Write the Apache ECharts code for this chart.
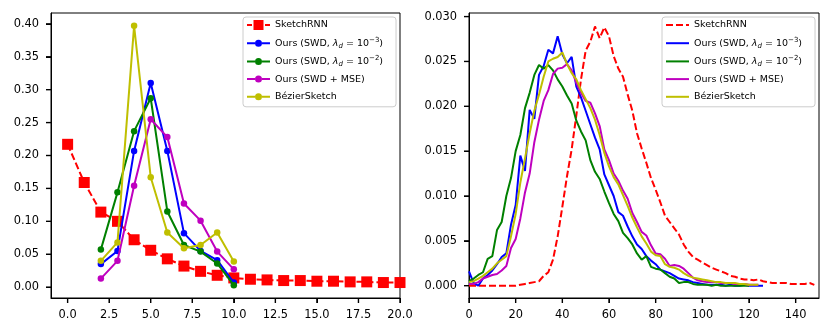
<!DOCTYPE html>
<html>
<head>
<meta charset="utf-8">
<script src="https://cdn.jsdelivr.net/npm/echarts@6/dist/echarts.min.js"></script>
<style>
  html, body { margin: 0; padding: 0; background: #fff; }
  #chart { width: 831px; height: 335px; }
</style>
</head>
<body>
<div id="chart"></div>
<script>
// left panel: number of strokes
var strokeX = [0, 1, 2, 3, 4, 5, 6, 7, 8, 9, 10, 11, 12, 13, 14, 15, 16, 17, 18, 19, 20];
var oursX = [2, 3, 4, 5, 6, 7, 8, 9, 10];
var sketchRnnStrokes = [0.217, 0.159, 0.114, 0.100, 0.072, 0.056, 0.043, 0.032, 0.024, 0.018, 0.014,
  0.012, 0.011, 0.010, 0.010, 0.009, 0.009, 0.008, 0.008, 0.007, 0.007];
var swd3Strokes = [0.035, 0.055, 0.207, 0.310, 0.207, 0.082, 0.055, 0.041, 0.007];
var swd2Strokes = [0.057, 0.144, 0.237, 0.287, 0.115, 0.064, 0.054, 0.036, 0.003];
var mseStrokes = [0.013, 0.040, 0.154, 0.255, 0.228, 0.127, 0.101, 0.054, 0.027];
var bezierStrokes = [0.040, 0.068, 0.397, 0.167, 0.083, 0.059, 0.064, 0.083, 0.039];

// right panel: sketch length
var lengthX = [0, 2, 4, 6, 8, 10, 12, 14, 16, 18, 20, 22, 24, 26, 28, 30, 32, 34, 36, 38, 40,
  42, 44, 46, 48, 50, 52, 54, 56, 58, 60, 62, 64, 66, 68, 70, 72, 74, 76, 78, 80,
  82, 84, 86, 88, 90, 92, 94, 96, 98, 100, 102, 104, 106, 108, 110, 112, 114, 116, 118, 120,
  122, 124, 126, 128, 130, 132, 134, 136, 138, 140, 142, 144, 146, 148];
var sketchRnnLen = [0, 0, 0, 0, 0, 0, 0, 0, 0, 0, 0.0000, 0.0001, 0.0002, 0.0003, 0.0004, 0.0005,
  0.0011, 0.0015, 0.0029, 0.0055, 0.0088, 0.0122, 0.0152, 0.0190, 0.0230, 0.0262, 0.0272,
  0.0289, 0.0276, 0.0288, 0.0278, 0.0256, 0.0242, 0.0233, 0.0213, 0.0195, 0.0170, 0.0153,
  0.0137, 0.0120, 0.0107, 0.0093, 0.0078, 0.0071, 0.0064, 0.0057, 0.0046, 0.0038, 0.0032,
  0.0029, 0.0026, 0.0023, 0.0020, 0.0018, 0.0016, 0.0014, 0.0011, 0.0010, 0.0008, 0.0007,
  0.0007, 0.0006, 0.0007, 0.0005, 0.0004, 0.0003, 0.0003, 0.0003, 0.0003, 0.0002, 0.0002,
  0.0002, 0.0002, 0.0003, 0.0001];
var swd3Len = [0.0016, 0.0003, 0.0000, 0.0008, 0.0012, 0.0017, 0.0024, 0.0032, 0.0036, 0.0068,
  0.0090, 0.0145, 0.0128, 0.0196, 0.0186, 0.0235, 0.0245, 0.0263, 0.0259, 0.0278, 0.0258,
  0.0248, 0.0255, 0.0222, 0.0210, 0.0195, 0.0180, 0.0165, 0.0152, 0.0124, 0.0112, 0.0100,
  0.0082, 0.0078, 0.0066, 0.0055, 0.0046, 0.0041, 0.0033, 0.0028, 0.0024, 0.0018, 0.0016,
  0.0014, 0.0011, 0.0008, 0.0007, 0.0006, 0.0004, 0.0003, 0.0002, 0.0001, 0.0001, 0.0001,
  0.0001, 0.0000, 0.0001, 0.0000, 0.0000, 0.0001, 0.0000, 0.0000, 0.0000, 0.0000];
var swd2Len = [0.0005, 0.0008, 0.0012, 0.0015, 0.0030, 0.0033, 0.0062, 0.0071, 0.0100, 0.0120,
  0.0150, 0.0168, 0.0198, 0.0215, 0.0235, 0.0246, 0.0242, 0.0246, 0.0240, 0.0230, 0.0222,
  0.0212, 0.0203, 0.0184, 0.0172, 0.0162, 0.0140, 0.0127, 0.0119, 0.0105, 0.0092, 0.0080,
  0.0072, 0.0059, 0.0053, 0.0046, 0.0036, 0.0029, 0.0033, 0.0021, 0.0019, 0.0018, 0.0014,
  0.0010, 0.0008, 0.0003, 0.0004, 0.0004, 0.0002, 0.0001, 0.0001, 0.0001, 0.0000, 0.0001,
  0.0000, 0.0000, 0.0000, 0.0000, 0.0000, 0.0000, 0.0000];
var mseLen = [0.0002, 0.0002, 0.0004, 0.0008, 0.0010, 0.0012, 0.0013, 0.0017, 0.0022, 0.0042,
  0.0052, 0.0075, 0.0104, 0.0125, 0.0160, 0.0185, 0.0206, 0.0218, 0.0236, 0.0242, 0.0243,
  0.0247, 0.0240, 0.0226, 0.0215, 0.0206, 0.0204, 0.0192, 0.0178, 0.0152, 0.0140, 0.0125,
  0.0117, 0.0106, 0.0097, 0.0081, 0.0071, 0.0060, 0.0056, 0.0045, 0.0036, 0.0035, 0.0030,
  0.0022, 0.0023, 0.0022, 0.0019, 0.0014, 0.0009, 0.0006, 0.0005, 0.0004, 0.0004, 0.0004,
  0.0003, 0.0003, 0.0003, 0.0002, 0.0002, 0.0002, 0.0001, 0.0001, 0.0001];
var bezierLen = [0.0004, 0.0005, 0.0008, 0.0011, 0.0015, 0.0019, 0.0025, 0.0029, 0.0033, 0.0055,
  0.0080, 0.0115, 0.0142, 0.0170, 0.0195, 0.0213, 0.0233, 0.0250, 0.0253, 0.0255, 0.0260,
  0.0247, 0.0237, 0.0230, 0.0218, 0.0208, 0.0198, 0.0185, 0.0168, 0.0148, 0.0133, 0.0121,
  0.0113, 0.0101, 0.0089, 0.0076, 0.0065, 0.0055, 0.0047, 0.0038, 0.0034, 0.0033, 0.0024,
  0.0021, 0.0020, 0.0018, 0.0014, 0.0011, 0.0009, 0.0008, 0.0007, 0.0006, 0.0005, 0.0004,
  0.0004, 0.0003, 0.0003, 0.0003, 0.0002, 0.0002, 0.0001, 0.0001, 0.0001];

var leftXTicks = [0, 2.5, 5, 7.5, 10, 12.5, 15, 17.5, 20];
var leftYTicks = [0, 0.05, 0.10, 0.15, 0.20, 0.25, 0.30, 0.35, 0.40];
var rightXTicks = [0, 20, 40, 60, 80, 100, 120, 140];
var rightYTicks = [0, 0.005, 0.010, 0.015, 0.020, 0.025, 0.030];

var names = ['SketchRNN', 'swd3', 'swd2', 'mse', 'BézierSketch'];
var labels = {
  'SketchRNN': 'SketchRNN',
  'swd3': 'Ours (SWD, {i|λ}{sub|d} = 10{sup|−3})',
  'swd2': 'Ours (SWD, {i|λ}{sub|d} = 10{sup|−2})',
  'mse': 'Ours (SWD + MSE)',
  'BézierSketch': 'BézierSketch'
};
var colors = ['#ff0000', '#0000ff', '#008000', '#bf00bf', '#bfbf00'];

var font = 'DejaVu Sans';
var xRanges = [[-1, 20], [0, 150]];
var yRanges = [[-0.0165, 0.4165], [-0.00137, 0.0304]];

// legend glyphs: line with marker (left), plain line (right)
var iconSquareDash = 'path://M0,4h5v2h-5z M6.5,0h10v10h-10z M18,4h5v2h-5z';
var iconDotLine = 'path://M0,2.5h8v2h-8z M15,3.5a3.5,3.5 0 1,1 -7,0a3.5,3.5 0 1,1 7,0z M15,2.5h8v2h-8z';
var iconDash = 'path://M0,0h7v2h-7z M10,0h7v2h-7z M20,0h3v2h-3z';
var iconLine = 'path://M0,0h23v2h-23z';

function pairs(xs, ys) {
  return ys.map(function (y, i) { return [xs[i], y]; });
}

function legendFor(suffix, left, firstIcon, otherIcon) {
  return {
    orient: 'vertical',
    left: left,
    top: 17,
    padding: [2, 13, 4, 4],
    itemGap: 5.7,
    itemWidth: 23,
    itemHeight: 11,
    symbolKeepAspect: true,
    borderColor: '#cccccc',
    borderWidth: 1,
    borderRadius: 3,
    backgroundColor: 'rgba(255,255,255,0.8)',
    selectedMode: false,
    data: names.map(function (n, k) {
      return { name: n + suffix, icon: k === 0 ? firstIcon : otherIcon };
    }),
    formatter: function (name) { return labels[name.replace(suffix, '')]; },
    textStyle: {
      fontFamily: font,
      fontSize: 9.5,
      lineHeight: 12,
      color: '#000',
      rich: {
        i: { fontFamily: font, fontStyle: 'italic', fontSize: 9.5, color: '#000' },
        sub: { fontFamily: font, fontStyle: 'italic', fontSize: 7, color: '#000', padding: [5, 0, 0, 0] },
        sup: { fontFamily: font, fontSize: 7, color: '#000', padding: [0, 0, 6, 0] }
      }
    }
  };
}

function axisFor(idx, range, ticks, digits) {
  return {
    type: 'value', gridIndex: idx, min: range[0], max: range[1],
    axisLine: { show: true, onZero: false, lineStyle: { color: '#000', width: 1 } },
    axisTick: { show: true, length: 5, customValues: ticks, lineStyle: { color: '#000', width: 1 } },
    axisLabel: {
      customValues: ticks, margin: 12, fontFamily: font, fontSize: 11.4, color: '#000',
      formatter: function (v) { return v.toFixed(digits); }
    },
    splitLine: { show: false }
  };
}

var leftValues = [sketchRnnStrokes, swd3Strokes, swd2Strokes, mseStrokes, bezierStrokes];
var rightValues = [sketchRnnLen, swd3Len, swd2Len, mseLen, bezierLen];

var series = [];
names.forEach(function (n, k) {
  var isRnn = k === 0;
  series.push({
    name: n,
    type: 'line',
    xAxisIndex: 0, yAxisIndex: 0,
    data: pairs(isRnn ? strokeX : oursX, leftValues[k]),
    symbol: isRnn ? 'rect' : 'circle',
    symbolSize: isRnn ? 11 : 6.5,
    showSymbol: true,
    color: colors[k],
    lineStyle: { color: colors[k], width: 2, type: isRnn ? [7, 3] : 'solid' },
    itemStyle: { color: colors[k] },
    animation: false,
    z: 2 + k
  });
});
names.forEach(function (n, k) {
  var isRnn = k === 0;
  series.push({
    name: n + '\u200b',
    type: 'line',
    xAxisIndex: 1, yAxisIndex: 1,
    data: pairs(lengthX, rightValues[k]),
    symbol: 'none',
    color: colors[k],
    lineStyle: { color: colors[k], width: 2, type: isRnn ? [7, 3] : 'solid' },
    animation: false,
    z: 2 + k
  });
});

var myChart = echarts.init(document.getElementById('chart'));

myChart.setOption({
  backgroundColor: '#ffffff',
  animation: false,
  grid: [
    { left: 51, top: 13, width: 349, height: 285, show: true, borderColor: '#000', borderWidth: 1 },
    { left: 469, top: 13, width: 350, height: 285, show: true, borderColor: '#000', borderWidth: 1 }
  ],
  legend: [
    legendFor('', 243, iconSquareDash, iconDotLine),
    legendFor('\u200b', 662, iconDash, iconLine)
  ],
  xAxis: [
    axisFor(0, xRanges[0], leftXTicks, 1),
    axisFor(1, xRanges[1], rightXTicks, 0)
  ],
  yAxis: [
    axisFor(0, yRanges[0], leftYTicks, 2),
    axisFor(1, yRanges[1], rightYTicks, 3)
  ],
  series: series
});

// outward tick marks, placed through the axes' own scales
var tickLen = 5;
var marks = [];
[[leftXTicks, leftYTicks], [rightXTicks, rightYTicks]].forEach(function (t, i) {
  var yBase = myChart.convertToPixel({ yAxisIndex: i }, yRanges[i][0]);
  var xBase = myChart.convertToPixel({ xAxisIndex: i }, xRanges[i][0]);
  t[0].forEach(function (v) {
    var px = myChart.convertToPixel({ xAxisIndex: i }, v);
    marks.push({ type: 'rect', silent: true, z: 50,
      shape: { x: px - 0.7, y: yBase, width: 1.4, height: tickLen },
      style: { fill: '#000' } });
  });
  t[1].forEach(function (v) {
    var py = myChart.convertToPixel({ yAxisIndex: i }, v);
    marks.push({ type: 'rect', silent: true, z: 50,
      shape: { x: xBase - tickLen, y: py - 0.7, width: tickLen, height: 1.4 },
      style: { fill: '#000' } });
  });
});
myChart.setOption({ graphic: { elements: marks } });
</script>
</body>
</html>
